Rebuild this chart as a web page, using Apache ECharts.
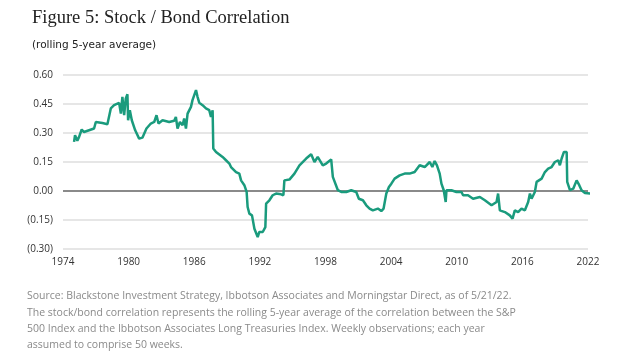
<!DOCTYPE html>
<html>
<head>
<meta charset="utf-8">
<script src="https://cdn.jsdelivr.net/npm/echarts@6/dist/echarts.min.js"></script>
<style>
html,body{margin:0;padding:0;background:#fff;}
#c{width:624px;height:358px;}
</style>
</head>
<body>
<div id="c"></div>
<script>
// Data: [year, correlation]
const years = [1975.01,1975.10,1975.31,1975.47,1975.71,1975.92,1976.38,1976.84,1977.00,1977.60,1978.06,1978.21,1978.37,1978.67,1979.13,1979.29,1979.43,1979.59,1979.74,1979.89,1979.95,1980.11,1980.29,1980.60,1980.96,1981.26,1981.63,1982.03,1982.34,1982.55,1982.73,1983.10,1983.71,1984.17,1984.32,1984.47,1984.69,1984.93,1985.08,1985.24,1985.39,1985.70,1985.84,1986.16,1986.30,1986.46,1986.76,1987.07,1987.37,1987.53,1987.68,1987.74,1987.99,1988.13,1988.59,1988.90,1989.21,1989.36,1989.51,1989.82,1990.12,1990.28,1990.58,1990.79,1990.88,1991.04,1991.28,1991.50,1991.80,1991.95,1992.26,1992.50,1992.57,1992.87,1993.17,1993.48,1993.94,1994.15,1994.24,1994.70,1995.16,1995.62,1996.23,1996.69,1996.99,1997.29,1997.75,1998.06,1998.52,1998.67,1999.13,1999.44,1999.90,2000.35,2000.81,2001.05,2001.42,2001.73,2002.03,2002.33,2002.79,2003.10,2003.31,2003.56,2003.80,2004.02,2004.32,2004.78,2005.24,2005.69,2006.15,2006.61,2007.07,2007.53,2007.77,2007.98,2008.19,2008.44,2008.60,2008.81,2008.99,2009.06,2009.51,2009.97,2010.43,2010.58,2011.03,2011.49,2011.65,2012.11,2012.57,2013.18,2013.64,2013.78,2013.94,2014.40,2014.85,2015.10,2015.31,2015.61,2015.92,2016.23,2016.53,2016.69,2016.84,2017.14,2017.30,2017.76,2018.06,2018.36,2018.67,2018.97,2019.28,2019.43,2019.59,2019.80,2020.05,2020.10,2020.35,2020.65,2020.96,2021.20,2021.41,2021.72,2022.18,2022.48];
const correlation = [0.254,0.289,0.260,0.280,0.318,0.305,0.314,0.323,0.357,0.352,0.345,0.335,0.427,0.444,0.456,0.400,0.487,0.392,0.479,0.500,0.366,0.418,0.366,0.314,0.271,0.276,0.323,0.349,0.357,0.392,0.349,0.366,0.357,0.363,0.383,0.323,0.357,0.340,0.375,0.323,0.400,0.435,0.470,0.522,0.487,0.456,0.444,0.427,0.418,0.383,0.418,0.220,0.202,0.194,0.176,0.159,0.142,0.124,0.116,0.098,0.090,0.055,0.030,-0.005,-0.083,-0.117,-0.126,-0.195,-0.238,-0.212,-0.212,-0.187,-0.065,-0.048,-0.022,-0.013,-0.017,-0.022,0.055,0.059,0.090,0.133,0.168,0.190,0.150,0.176,0.133,0.142,0.163,0.073,0.004,-0.005,-0.005,0.004,-0.005,-0.040,-0.048,-0.074,-0.091,-0.100,-0.091,-0.104,-0.091,-0.013,0.021,0.038,0.064,0.081,0.090,0.090,0.098,0.133,0.124,0.150,0.124,0.155,0.133,0.090,0.038,0.004,-0.057,0.004,0.004,-0.005,-0.005,-0.022,-0.022,-0.040,-0.048,-0.031,-0.048,-0.074,-0.057,-0.013,-0.100,-0.109,-0.126,-0.143,-0.100,-0.109,-0.091,-0.100,-0.057,-0.013,-0.040,-0.005,0.047,0.064,0.098,0.116,0.124,0.150,0.159,0.133,0.168,0.202,0.202,0.047,0.004,0.012,0.055,0.030,0.004,-0.010,-0.013,-0.013];
const xTicks = [1974,1980,1986,1992,1998,2004,2010,2016,2022];
const yTicks = [-0.30,-0.15,0.00,0.15,0.30,0.45,0.60];
const titleText = 'Figure 5: Stock / Bond Correlation';
const subtitleText = '(rolling 5-year average)';
const noteLines = [
  'Source: Blackstone Investment Strategy, Ibbotson Associates and Morningstar Direct, as of 5/21/22.',
  'The stock/bond correlation represents the rolling 5-year average of the correlation between the S&P',
  '500 Index and the Ibbotson Associates Long Treasuries Index. Weekly observations; each year',
  'assumed to comprise 50 weeks.'
];

const seriesData = years.map((y, i) => [y, correlation[i]]);
const fmt = v => {
  const r = Math.round(v * 100) / 100;
  return r < 0 ? '(' + Math.abs(r).toFixed(2) + ')' : r.toFixed(2);
};

const chart = echarts.init(document.getElementById('c'), null, {renderer: 'canvas'});
const titles = [
  {text: titleText, left: 27, top: 4, textStyle: {fontFamily: 'Liberation Serif', fontSize: 18.5, fontWeight: 'normal', color: '#222'}},
  {text: subtitleText, left: 27, top: 35, textStyle: {fontFamily: 'DejaVu Sans', fontSize: 10.5, fontWeight: 'normal', color: '#222'}}
];
noteLines.forEach((t, i) => {
  titles.push({text: t, left: 22, top: 286 + i * 16.2, textStyle: {fontFamily: 'Open Sans', fontSize: 10.5, fontWeight: 'normal', color: '#8a8a8a'}});
});

chart.setOption({
  animation: false,
  title: titles,
  grid: {left: 63, right: 36, top: 75, bottom: 109},
  xAxis: {
    type: 'value', min: xTicks[0], max: xTicks[xTicks.length - 1], interval: 6,
    axisLine: {show: false}, axisTick: {show: false}, splitLine: {show: false},
    axisLabel: {margin: 8, color: '#333', fontFamily: 'Open Sans', fontSize: 10, formatter: v => String(v)}
  },
  yAxis: {
    type: 'value', min: yTicks[0], max: yTicks[yTicks.length - 1], interval: 0.15,
    axisLine: {show: false}, axisTick: {show: false},
    splitLine: {lineStyle: {color: '#dedede', width: 1.5}},
    axisLabel: {margin: 10, color: '#333', fontFamily: 'Open Sans', fontSize: 10, formatter: fmt}
  },
  series: [{
    type: 'line', data: seriesData, showSymbol: false, clip: false,
    lineStyle: {color: '#1a9b7d', width: 2.5}, z: 3,
    markLine: {
      silent: true, symbol: 'none', label: {show: false},
      lineStyle: {color: '#6b6b6b', width: 1.5, type: 'solid'},
      data: [{yAxis: 0}], z: 2
    }
  }]
});
</script>
</body>
</html>
